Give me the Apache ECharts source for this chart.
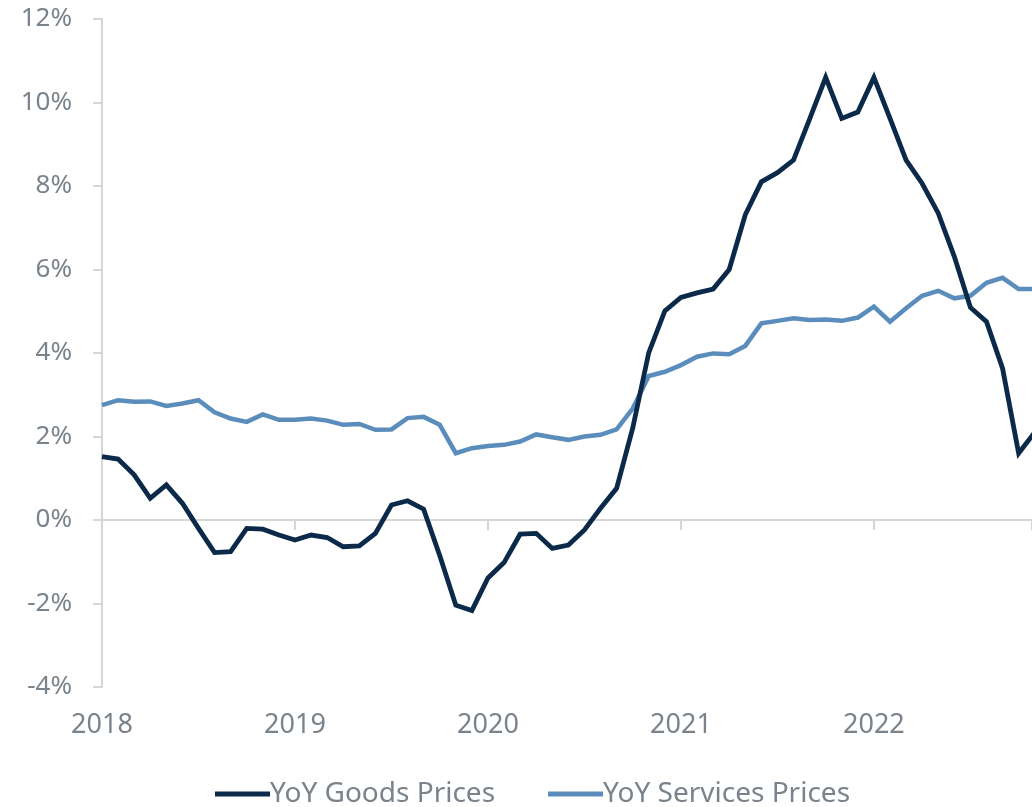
<!DOCTYPE html>
<html>
<head>
<meta charset="utf-8">
<script src="https://cdn.jsdelivr.net/npm/echarts@6/dist/echarts.min.js"></script>
<style>
  html, body { margin: 0; padding: 0; background: #ffffff; }
  #chart { width: 1032px; height: 807px; }
</style>
</head>
<body>
<div id="chart"></div>
<script>
// Monthly year-over-year price changes, Jan 2018 onward (percent)
var months = [
  '2018-01','2018-02','2018-03','2018-04','2018-05','2018-06','2018-07','2018-08','2018-09','2018-10','2018-11','2018-12',
  '2019-01','2019-02','2019-03','2019-04','2019-05','2019-06','2019-07','2019-08','2019-09','2019-10','2019-11','2019-12',
  '2020-01','2020-02','2020-03','2020-04','2020-05','2020-06','2020-07','2020-08','2020-09','2020-10','2020-11','2020-12',
  '2021-01','2021-02','2021-03','2021-04','2021-05','2021-06','2021-07','2021-08','2021-09','2021-10','2021-11','2021-12',
  '2022-01','2022-02','2022-03','2022-04','2022-05','2022-06','2022-07','2022-08','2022-09','2022-10','2022-11'
];

var goodsPrices = [
  1.52, 1.46, 1.08, 0.52, 0.84, 0.40, -0.20, -0.78, -0.76, -0.20, -0.22, -0.36,
  -0.48, -0.36, -0.42, -0.64, -0.62, -0.32, 0.36, 0.46, 0.26, -0.85, -2.04, -2.17,
  -1.39, -1.02, -0.34, -0.32, -0.68, -0.60, -0.24, 0.28, 0.76, 2.20, 4.01, 5.01,
  5.33, 5.44, 5.53, 6.00, 7.31, 8.10, 8.32, 8.62, 9.60, 10.60, 9.62, 9.77,
  10.60, 9.62, 8.62, 8.06, 7.35, 6.31, 5.09, 4.75, 3.63, 1.60, 2.10
];

var servicesPrices = [
  2.75, 2.87, 2.83, 2.84, 2.73, 2.79, 2.87, 2.58, 2.43, 2.35, 2.53, 2.40,
  2.40, 2.43, 2.38, 2.28, 2.30, 2.16, 2.17, 2.44, 2.47, 2.28, 1.60, 1.72,
  1.77, 1.80, 1.88, 2.05, 1.98, 1.92, 2.00, 2.04, 2.17, 2.67, 3.45, 3.55,
  3.71, 3.91, 3.99, 3.97, 4.17, 4.71, 4.77, 4.83, 4.79, 4.80, 4.77, 4.85,
  5.11, 4.75, 5.07, 5.37, 5.49, 5.31, 5.37, 5.68, 5.80, 5.53, 5.53
];

var seriesNames = ['YoY Goods Prices', 'YoY Services Prices'];
var yTicks = { min: -4, max: 12, step: 2 };
var firstYear = 2018;

// months since Jan of the first year
function monthIndex(s) {
  var p = s.split('-');
  return (parseInt(p[0], 10) - firstYear) * 12 + (parseInt(p[1], 10) - 1);
}
function pairs(values) {
  return months.map(function (m, i) { return [monthIndex(m), values[i]]; });
}

var textColor = '#7a838b';
var axisColor = '#d6d6d6';
var fontFamily = '"Noto Sans", "Open Sans", sans-serif';
var xMax = 57.83;

var chart = echarts.init(document.getElementById('chart'), null, { renderer: 'canvas' });

chart.setOption({
  animation: false,
  backgroundColor: '#ffffff',
  textStyle: { fontFamily: fontFamily },
  grid: { left: 102, right: 0, top: 19, bottom: 120, containLabel: false },
  legend: {
    data: seriesNames,
    left: 210,
    top: 775,
    icon: 'rect',
    itemWidth: 55,
    itemHeight: 5,
    itemGap: 53,
    textStyle: { color: textColor, fontSize: 28, fontFamily: fontFamily, padding: [0, 0, 0, -5] }
  },
  xAxis: [
    {
      // axis line drawn through zero, year ticks hanging below it
      type: 'value',
      min: 0,
      max: xMax,
      interval: 12,
      axisLine: { onZero: true, lineStyle: { color: axisColor, width: 2 } },
      axisTick: { show: true, length: 10, inside: false, lineStyle: { color: axisColor, width: 2 } },
      axisLabel: { show: false },
      splitLine: { show: false }
    },
    {
      // year labels along the bottom edge
      type: 'value',
      position: 'bottom',
      min: 0,
      max: xMax,
      interval: 12,
      axisLine: { show: false },
      axisTick: { show: false },
      splitLine: { show: false },
      axisLabel: {
        show: true,
        margin: 25,
        color: textColor,
        fontSize: 27,
        fontFamily: fontFamily,
        showMaxLabel: false,
        formatter: function (v) {
          return (v % 12 === 0) ? String(firstYear + v / 12) : '';
        }
      }
    }
  ],
  yAxis: {
    type: 'value',
    min: yTicks.min,
    max: yTicks.max,
    interval: yTicks.step,
    axisLine: { show: true, lineStyle: { color: axisColor, width: 2 } },
    axisTick: { show: true, length: 9, lineStyle: { color: axisColor, width: 2 } },
    splitLine: { show: false },
    axisLabel: {
      margin: 30,
      color: textColor,
      fontSize: 26,
      fontFamily: fontFamily,
      formatter: function (v) { return v + '%'; }
    }
  },
  series: [
    {
      name: seriesNames[0],
      type: 'line',
      xAxisIndex: 0,
      data: pairs(goodsPrices),
      showSymbol: false,
      symbol: 'none',
      clip: true,
      z: 3,
      itemStyle: { color: '#0b2a4a' },
      lineStyle: { color: '#0b2a4a', width: 4.8, join: 'miter' }
    },
    {
      name: seriesNames[1],
      type: 'line',
      xAxisIndex: 0,
      data: pairs(servicesPrices),
      showSymbol: false,
      symbol: 'none',
      clip: true,
      z: 2,
      itemStyle: { color: '#5a8dbb' },
      lineStyle: { color: '#5a8dbb', width: 4.5, join: 'miter' }
    }
  ]
});
</script>
</body>
</html>
